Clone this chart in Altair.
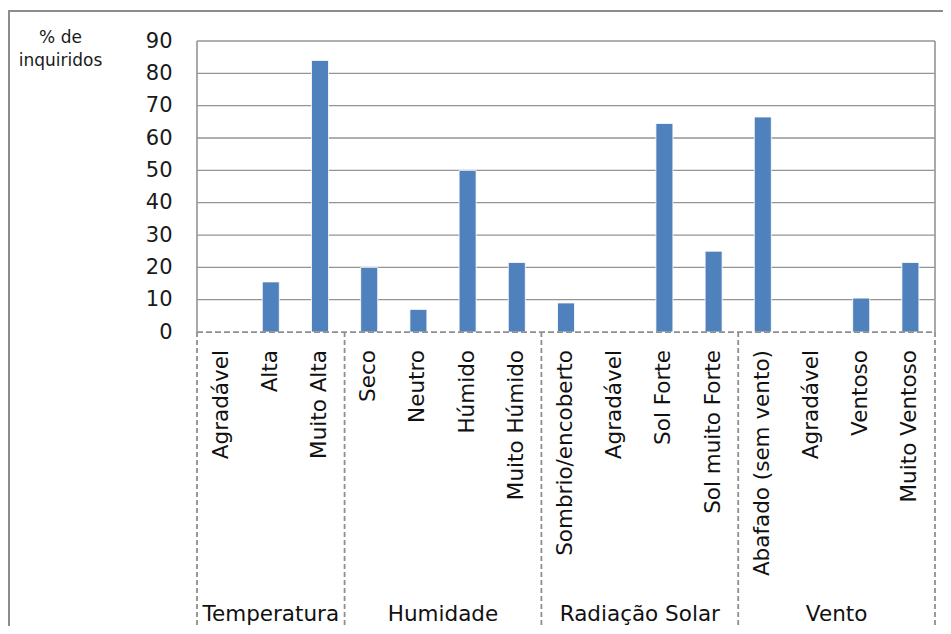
import altair as alt
import pandas as pd

# ---- data ----
groups = ["Temperatura", "Humidade", "Radiação Solar", "Vento"]
group_sizes = [3, 4, 4, 4]
categories = [
    "Agradável", "Alta", "Muito Alta",
    "Seco", "Neutro", "Húmido", "Muito Húmido",
    "Sombrio/encoberto", "Agradável", "Sol Forte", "Sol muito Forte",
    "Abafado (sem vento)", "Agradável", "Ventoso", "Muito Ventoso",
]
values = [0, 15.5, 84,
          20, 7, 50, 21.5,
          9, 0, 64.5, 25,
          66.5, 0, 10.5, 21.5]
y_ticks = [0, 10, 20, 30, 40, 50, 60, 70, 80, 90]
y_title = ["% de", "inquiridos"]

X_MIN, X_MAX = -0.5, len(categories) - 0.5
Y_MIN, Y_MAX = -90.9, 90

# ---- derived tables ----
group_of = []
for g, n in zip(groups, group_sizes):
    group_of += [g] * n
df = pd.DataFrame({"idx": list(range(len(categories))), "name": categories,
                   "group": group_of, "value": values,
                   "zero": [0] * len(categories)})

starts, centers = [], []
s = 0
for n in group_sizes:
    starts.append(s)
    centers.append(s + (n - 1) / 2)
    s += n
gdf = pd.DataFrame({"group": groups, "center": centers, "ymin": [Y_MIN] * len(groups)})
bounds = [b - 0.5 for b in starts] + [len(categories) - 0.5]
bdf = pd.DataFrame({"pos": bounds, "y0": [0] * len(bounds), "ylo": [Y_MIN] * len(bounds),
                    "yhi": [Y_MAX] * len(bounds)})
outer = bdf.iloc[[0, len(bdf) - 1]].reset_index(drop=True)
grid_df = pd.DataFrame({"v": [t for t in y_ticks if t != 0]})
grid_df["x0"] = X_MIN
grid_df["x1"] = X_MAX
zero_df = pd.DataFrame({"v": [0], "x0": [X_MIN], "x1": [X_MAX]})
one = pd.DataFrame({"k": [0]})

FONT = "DejaVu Sans"
GRID = "#949494"
DASH = "#8f8f8f"

xs = alt.Scale(domain=[X_MIN, X_MAX], nice=False, zero=False, padding=0)
ys = alt.Scale(domain=[Y_MIN, Y_MAX], nice=False, zero=False, padding=0)

yaxis = alt.Axis(values=y_ticks, grid=False, domain=False, ticks=False,
                 labelFont=FONT, labelFontSize=21, labelColor="#1a1a1a",
                 labelPadding=25,
                 title=y_title, titleAngle=0, titleFont=FONT, titleFontSize=17,
                 titleFontWeight="normal", titleColor="#1a1a1a",
                 titleAlign="center", titleBaseline="alphabetic",
                 titleX=-137, titleY=1, titleLineHeight=23)

frame = alt.Chart(one).mark_rect(fillOpacity=0, stroke="#8c8c8c", strokeWidth=2).encode(
    x=alt.value(-188), x2=alt.value(780), y=alt.value(-30), y2=alt.value(640)
)

grid = alt.Chart(grid_df).mark_rule(color=GRID, strokeWidth=1.3).encode(
    y=alt.Y("v:Q", scale=ys, axis=yaxis),
    x=alt.X("x0:Q", scale=xs, axis=None), x2="x1:Q"
)

bars = alt.Chart(df).mark_bar(width=17, color="#4F81BD",
                              stroke="#ffffff", strokeWidth=0.8).encode(
    x=alt.X("idx:Q", scale=xs, axis=None),
    y=alt.Y("value:Q", scale=ys, axis=yaxis),
    y2="zero:Q",
)

side_rules = alt.Chart(outer).mark_rule(color=GRID, strokeWidth=1.6).encode(
    x=alt.X("pos:Q", scale=xs, axis=None), y=alt.Y("y0:Q", scale=ys, axis=yaxis), y2="yhi:Q"
)

sep_rules = alt.Chart(bdf).mark_rule(color=DASH, strokeWidth=1.8, strokeDash=[5, 3]).encode(
    x=alt.X("pos:Q", scale=xs, axis=None), y=alt.Y("y0:Q", scale=ys, axis=yaxis), y2="ylo:Q"
)

zero_line = alt.Chart(zero_df).mark_rule(color=DASH, strokeWidth=1.8, strokeDash=[6, 3]).encode(
    y=alt.Y("v:Q", scale=ys, axis=yaxis),
    x=alt.X("x0:Q", scale=xs, axis=None), x2="x1:Q"
)

cat_labels = alt.Chart(df).mark_text(angle=270, align="right", baseline="middle", dx=-18,
                                     font=FONT, fontSize=21.5, color="#111111").encode(
    x=alt.X("idx:Q", scale=xs, axis=None), y=alt.Y("zero:Q", scale=ys, axis=yaxis), text="name:N"
)

grp_labels = alt.Chart(gdf).mark_text(align="center", baseline="alphabetic", dy=-5,
                                      font=FONT, fontSize=21.5, color="#111111").encode(
    x=alt.X("center:Q", scale=xs, axis=None), y=alt.Y("ymin:Q", scale=ys, axis=yaxis), text="group:N"
)

chart = alt.layer(frame, grid, sep_rules, side_rules, bars, zero_line, cat_labels, grp_labels).properties(
    width=738, height=585,
    autosize=alt.AutoSizeParams(type="none"),
    padding={"left": 189, "top": 33, "right": 8, "bottom": 0},
    background="white",
).configure_view(strokeWidth=0)

chart.save("out.html", embed_options={"renderer": "svg", "actions": False})
